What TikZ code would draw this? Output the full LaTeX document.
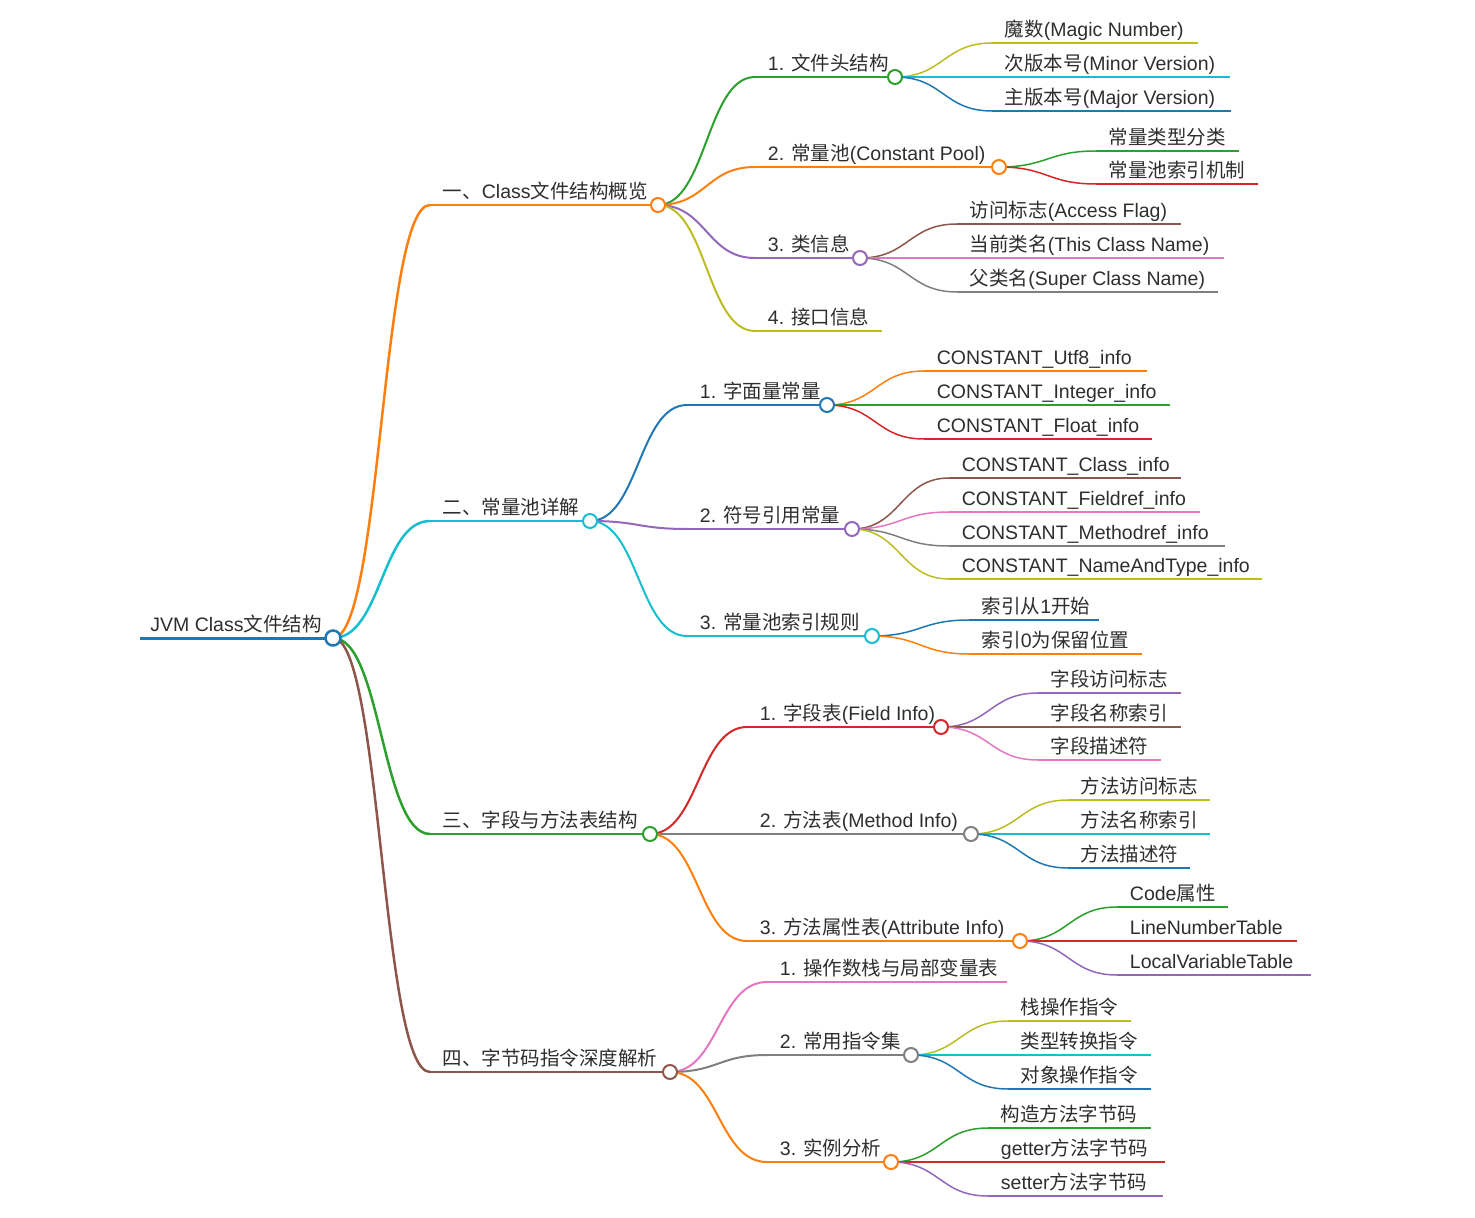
\documentclass[tikz,border=0pt]{standalone}
\usepackage{fontspec}
\setmainfont{Liberation Sans}
\newfontfamily\cjkf{Noto Sans CJK SC}
\newcommand\zhs[1]{{\cjkf #1}}
\usetikzlibrary{calc}
\definecolor{mblue}{HTML}{1F77B4}
\definecolor{morange}{HTML}{FF7F0E}
\definecolor{mgreen}{HTML}{2CA02C}
\definecolor{mred}{HTML}{D62728}
\definecolor{mpurple}{HTML}{9467BD}
\definecolor{mbrown}{HTML}{8C564B}
\definecolor{mpink}{HTML}{E377C2}
\definecolor{mgray}{HTML}{7F7F7F}
\definecolor{molive}{HTML}{BCBD22}
\definecolor{mcyan}{HTML}{17BECF}
\tikzset{
  lbl/.style={anchor=base west, inner sep=0pt, text=black!82, font=\fontsize{9.75pt}{12pt}\selectfont},
  L0/.style={line width=1.5pt},
  L1/.style={line width=1.25pt},
  L2/.style={line width=1pt},
  L3/.style={line width=0.75pt},
  mmc/.style={line width=1pt},
}
% name, style, x0, y, xend, text
\newcommand\mmnode[6]{%
  \coordinate (#1-s) at (#3,#4);
  \coordinate (#1) at (#5,#4);
  \node[lbl] (#1-t) at ($(#1-s)+(12.5,-6.5)$) {#6};
  \draw[#2] (#1-s) -- (#1);
}
\newcommand\mmlink[3]{%
  \draw[#3] let \p1=(#1), \p2=(#2-s) in (\p1) .. controls ({(\x1+\x2)/2},\y1) and ({(\x1+\x2)/2},\y2) .. (\p2);
}
\newcommand\mmcirc[2]{\draw[mmc,draw=#2,fill=white] (#1) circle[radius=7];}
\begin{document}
\begin{tikzpicture}[x=0.5pt,y=-0.5pt]
\useasboundingbox (0,0) rectangle (1475,1218);
% root
\coordinate (R-s) at (140,638);
\coordinate (R) at (333,638);
\node[lbl] (R-t) at (150,631.5) {JVM Class\zhs{文件结构}};
\draw[L0,mblue] (R-s) -- (R);
% level 1
\mmnode{A}{L1,morange}{430}{205}{658}{\zhs{一、}Class\zhs{文件结构概览}}
\mmnode{B}{L1,mcyan}{430}{521}{590}{\zhs{二、常量池详解}}
\mmnode{C}{L1,mgreen}{430}{834}{650}{\zhs{三、字段与方法表结构}}
\mmnode{D}{L1,mbrown}{430}{1072}{670}{\zhs{四、字节码指令深度解析}}
% level 2
\mmnode{A1}{L2,mgreen}{755}{77}{895}{1. \zhs{文件头结构}}
\mmnode{A2}{L2,morange}{755}{167}{999}{2. \zhs{常量池}(Constant Pool)}
\mmnode{A3}{L2,mpurple}{755}{258}{860}{3. \zhs{类信息}}
\mmnode{A4}{L2,molive}{755}{331}{882}{4. \zhs{接口信息}}
\mmnode{B1}{L2,mblue}{687}{405}{827}{1. \zhs{字面量常量}}
\mmnode{B2}{L2,mpurple}{687}{529}{852}{2. \zhs{符号引用常量}}
\mmnode{B3}{L2,mcyan}{687}{636}{872}{3. \zhs{常量池索引规则}}
\mmnode{C1}{L2,mred}{747}{727}{941}{1. \zhs{字段表}(Field Info)}
\mmnode{C2}{L2,mgray}{747}{834}{971}{2. \zhs{方法表}(Method Info)}
\mmnode{C3}{L2,morange}{747}{941}{1020}{3. \zhs{方法属性表}(Attribute Info)}
\mmnode{D1}{L2,mpink}{767}{982}{1007}{1. \zhs{操作数栈与局部变量表}}
\mmnode{D2}{L2,mgray}{767}{1055}{911}{2. \zhs{常用指令集}}
\mmnode{D3}{L2,morange}{767}{1162}{891}{3. \zhs{实例分析}}
% level 3
\mmnode{A1a}{L3,molive}{992}{43}{1198}{\zhs{魔数}(Magic Number)}
\mmnode{A1b}{L3,mcyan}{992}{77}{1230}{\zhs{次版本号}(Minor Version)}
\mmnode{A1c}{L3,mblue}{992}{111}{1231}{\zhs{主版本号}(Major Version)}
\mmnode{A2a}{L3,mgreen}{1096}{151}{1239}{\zhs{常量类型分类}}
\mmnode{A2b}{L3,mred}{1096}{184}{1258}{\zhs{常量池索引机制}}
\mmnode{A3a}{L3,mbrown}{957}{224}{1181}{\zhs{访问标志}(Access Flag)}
\mmnode{A3b}{L3,mpink}{957}{258}{1224}{\zhs{当前类名}(This Class Name)}
\mmnode{A3c}{L3,mgray}{957}{292}{1218}{\zhs{父类名}(Super Class Name)}
\mmnode{B1a}{L3,morange}{924}{371}{1147}{CONSTANT\_Utf8\_info}
\mmnode{B1b}{L3,mgreen}{924}{405}{1170}{CONSTANT\_Integer\_info}
\mmnode{B1c}{L3,mred}{924}{439}{1152}{CONSTANT\_Float\_info}
\mmnode{B2a}{L3,mbrown}{949}{478}{1181}{CONSTANT\_Class\_info}
\mmnode{B2b}{L3,mpink}{949}{512}{1200}{CONSTANT\_Fieldref\_info}
\mmnode{B2c}{L3,mgray}{949}{546}{1225}{CONSTANT\_Methodref\_info}
\mmnode{B2d}{L3,molive}{949}{579}{1262}{CONSTANT\_NameAndType\_info}
\mmnode{B3a}{L3,mblue}{969}{620}{1099}{\zhs{索引从}1\zhs{开始}}
\mmnode{B3b}{L3,morange}{969}{654}{1142}{\zhs{索引}0\zhs{为保留位置}}
\mmnode{C1a}{L3,mpurple}{1038}{693}{1181}{\zhs{字段访问标志}}
\mmnode{C1b}{L3,mbrown}{1038}{727}{1181}{\zhs{字段名称索引}}
\mmnode{C1c}{L3,mpink}{1038}{760}{1161}{\zhs{字段描述符}}
\mmnode{C2a}{L3,molive}{1068}{800}{1210}{\zhs{方法访问标志}}
\mmnode{C2b}{L3,mcyan}{1068}{834}{1210}{\zhs{方法名称索引}}
\mmnode{C2c}{L3,mblue}{1068}{868}{1190}{\zhs{方法描述符}}
\mmnode{C3a}{L3,mgreen}{1117}{907}{1228}{Code\zhs{属性}}
\mmnode{C3b}{L3,mred}{1117}{941}{1297}{LineNumberTable}
\mmnode{C3c}{L3,mpurple}{1117}{975}{1311}{LocalVariableTable}
\mmnode{D2a}{L3,molive}{1008}{1021}{1131}{\zhs{栈操作指令}}
\mmnode{D2b}{L3,mcyan}{1008}{1055}{1151}{\zhs{类型转换指令}}
\mmnode{D2c}{L3,mblue}{1008}{1089}{1151}{\zhs{对象操作指令}}
\mmnode{D3a}{L3,mgreen}{988}{1128}{1151}{\zhs{构造方法字节码}}
\mmnode{D3b}{L3,mred}{988}{1162}{1165}{getter\zhs{方法字节码}}
\mmnode{D3c}{L3,mpurple}{988}{1196}{1163}{setter\zhs{方法字节码}}
% links
\mmlink{R}{A}{L1,morange}
\mmlink{R}{B}{L1,mcyan}
\mmlink{R}{C}{L1,mgreen}
\mmlink{R}{D}{L1,mbrown}
\mmlink{A}{A1}{L2,mgreen}
\mmlink{A}{A2}{L2,morange}
\mmlink{A}{A3}{L2,mpurple}
\mmlink{A}{A4}{L2,molive}
\mmlink{B}{B1}{L2,mblue}
\mmlink{B}{B2}{L2,mpurple}
\mmlink{B}{B3}{L2,mcyan}
\mmlink{C}{C1}{L2,mred}
\mmlink{C}{C2}{L2,mgray}
\mmlink{C}{C3}{L2,morange}
\mmlink{D}{D1}{L2,mpink}
\mmlink{D}{D2}{L2,mgray}
\mmlink{D}{D3}{L2,morange}
\mmlink{A1}{A1a}{L3,molive}
\mmlink{A1}{A1b}{L3,mcyan}
\mmlink{A1}{A1c}{L3,mblue}
\mmlink{A2}{A2a}{L3,mgreen}
\mmlink{A2}{A2b}{L3,mred}
\mmlink{A3}{A3a}{L3,mbrown}
\mmlink{A3}{A3b}{L3,mpink}
\mmlink{A3}{A3c}{L3,mgray}
\mmlink{B1}{B1a}{L3,morange}
\mmlink{B1}{B1b}{L3,mgreen}
\mmlink{B1}{B1c}{L3,mred}
\mmlink{B2}{B2a}{L3,mbrown}
\mmlink{B2}{B2b}{L3,mpink}
\mmlink{B2}{B2c}{L3,mgray}
\mmlink{B2}{B2d}{L3,molive}
\mmlink{B3}{B3a}{L3,mblue}
\mmlink{B3}{B3b}{L3,morange}
\mmlink{C1}{C1a}{L3,mpurple}
\mmlink{C1}{C1b}{L3,mbrown}
\mmlink{C1}{C1c}{L3,mpink}
\mmlink{C2}{C2a}{L3,molive}
\mmlink{C2}{C2b}{L3,mcyan}
\mmlink{C2}{C2c}{L3,mblue}
\mmlink{C3}{C3a}{L3,mgreen}
\mmlink{C3}{C3b}{L3,mred}
\mmlink{C3}{C3c}{L3,mpurple}
\mmlink{D2}{D2a}{L3,molive}
\mmlink{D2}{D2b}{L3,mcyan}
\mmlink{D2}{D2c}{L3,mblue}
\mmlink{D3}{D3a}{L3,mgreen}
\mmlink{D3}{D3b}{L3,mred}
\mmlink{D3}{D3c}{L3,mpurple}
% circles
\draw[mmc,draw=mblue,fill=white,line width=1.25pt] (R) circle[radius=7.5];
\mmcirc{A}{morange}
\mmcirc{B}{mcyan}
\mmcirc{C}{mgreen}
\mmcirc{D}{mbrown}
\mmcirc{A1}{mgreen}
\mmcirc{A2}{morange}
\mmcirc{A3}{mpurple}
\mmcirc{B1}{mblue}
\mmcirc{B2}{mpurple}
\mmcirc{B3}{mcyan}
\mmcirc{C1}{mred}
\mmcirc{C2}{mgray}
\mmcirc{C3}{morange}
\mmcirc{D2}{mgray}
\mmcirc{D3}{morange}
\end{tikzpicture}
\end{document}
